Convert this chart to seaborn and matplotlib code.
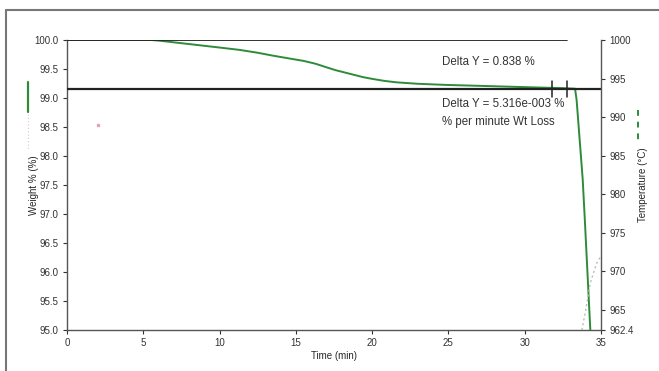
import numpy as np
import pandas as pd
import matplotlib
matplotlib.use("Agg")
import matplotlib.pyplot as plt
import seaborn as sns
from matplotlib.lines import Line2D

# weight curve
time_min = [0, 5.5, 6, 7, 8, 9, 10, 11.3, 12.5, 13.5, 14.6, 15.5, 16.3, 17, 17.6, 18.2,
            18.8, 19.4, 20.0, 20.8, 21.6, 23, 24.9, 27, 29, 31, 32.5, 33.3, 33.4, 33.8,
            33.94, 34.3]
weight_pct = [100, 100, 99.99, 99.96, 99.93, 99.90, 99.87, 99.83, 99.78, 99.73, 99.68,
              99.64, 99.59, 99.53, 99.48, 99.44, 99.40, 99.36, 99.33, 99.295, 99.27,
              99.245, 99.225, 99.21, 99.195, 99.18, 99.17, 99.16, 98.97, 97.6, 96.9, 95.0]

# temperature trace (faint dotted, right axis)
temp_time = [33.75, 34.0, 34.3, 34.7, 35.0]
temp_c = [962.4, 965.0, 968.5, 971.0, 972.0]

# analysis cursors
upper_level = 100.0
lower_level = 99.15
upper_end = 32.75
cursor_times = [31.8, 32.75]
stray_point = (2.0, 98.53)

x_ticks = [0, 5, 10, 15, 20, 25, 30, 35]
y_ticks = [95.0, 95.5, 96.0, 96.5, 97.0, 97.5, 98.0, 98.5, 99.0, 99.5, 100.0]
t_ticks = [1000, 995, 990, 985, 980, 975, 970, 965, 962.4]

sns.set_style("white")
plt.rcParams["font.family"] = ["Liberation Sans", "DejaVu Sans"]

fig = plt.figure(figsize=(6.59, 3.71), dpi=100)
ax = fig.add_axes([67 / 659, 1 - 330 / 371, 534 / 659, 290 / 371])

df = pd.DataFrame({"time": time_min, "weight": weight_pct})
sns.lineplot(data=df, x="time", y="weight", ax=ax, color="#2e8b3a", lw=1.4,
             estimator=None, sort=False, zorder=3)

ax.plot([0, upper_end], [upper_level, upper_level], color="#222222", lw=1.3, zorder=4)
ax.plot([0, 35], [lower_level, lower_level], color="#222222", lw=1.6, zorder=4)
for ct in cursor_times:
    ax.plot([ct, ct], [lower_level - 0.14, lower_level + 0.14], color="#222222", lw=1.1, zorder=5)
ax.plot(*stray_point, marker="s", ms=1.5, color="#e8a0c0", ls="none")

ax.text(24.6, 99.62, "Delta Y = 0.838 %", fontsize=8.3, va="center", color="#333333")
ax.text(24.6, 98.89, "Delta Y = 5.316e-003 %", fontsize=8.3, va="center", color="#333333")
ax.text(24.6, 98.58, "% per minute Wt Loss", fontsize=8.3, va="center", color="#333333")

ax.set_xlim(0, 35)
ax.set_ylim(95.0, 100.0)
ax.set_xticks(x_ticks)
ax.set_yticks(y_ticks)
ax.set_yticklabels([f"{v:.1f}" for v in y_ticks])
ax.set_xlabel("Time (min)", fontsize=7, labelpad=2)
ax.set_ylabel("Weight % (%)", fontsize=7)
ax.yaxis.set_label_coords(-0.052, 0.5)
ax.tick_params(axis="both", labelsize=7, length=3, width=0.8, direction="out",
               colors="#333333", pad=3)
ax.tick_params(left=True, bottom=True)
for side in ["top", "right"]:
    ax.spines[side].set_visible(False)
for side in ["left", "bottom"]:
    ax.spines[side].set_color("#555555")
    ax.spines[side].set_linewidth(1.0)

ax2 = ax.twinx()
ax2.plot(temp_time, temp_c, color="#bbbbbb", lw=1.0, ls=(0, (1.5, 2)))
ax2.set_ylim(962.4, 1000)
ax2.set_yticks(t_ticks)
ax2.set_yticklabels(["1000", "995", "990", "985", "980", "975", "970", "965", "962.4"])
ax2.set_ylabel("Temperature (°C)", fontsize=7, labelpad=3)
ax2.tick_params(axis="y", labelsize=7, length=3, width=0.8, direction="out",
                colors="#333333", pad=3, right=True)
for side in ["top", "left", "bottom"]:
    ax2.spines[side].set_visible(False)
ax2.spines["right"].set_color("#555555")
ax2.spines["right"].set_linewidth(1.0)

# legend swatches next to the axis titles
fig.add_artist(Line2D([28 / 659, 28 / 659], [1 - 82 / 371, 1 - 112 / 371],
                      color="#2e8b3a", lw=1.6))
fig.add_artist(Line2D([28 / 659, 28 / 659], [1 - 114 / 371, 1 - 150 / 371],
                      color="#cccccc", lw=0.8, ls=(0, (1, 2))))
fig.add_artist(Line2D([638 / 659, 638 / 659], [1 - 110 / 371, 1 - 140 / 371],
                      color="#2e8b3a", lw=1.4, ls=(0, (3, 3))))

# outer frame
fig.add_artist(Line2D([6 / 659, 6 / 659], [0, 1 - 10 / 371], color="#777777", lw=1.5))
fig.add_artist(Line2D([6 / 659, 1], [1 - 10 / 371, 1 - 10 / 371], color="#777777", lw=1.5))

fig.savefig("out.png", dpi=100)
